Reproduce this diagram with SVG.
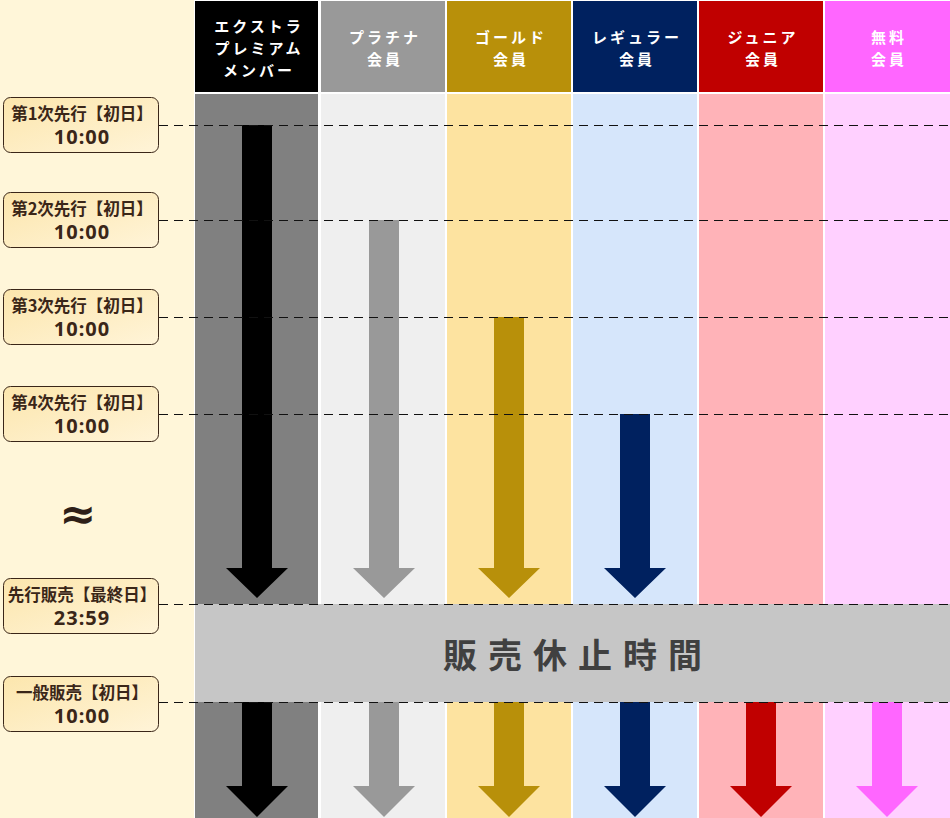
<svg xmlns="http://www.w3.org/2000/svg" width="950" height="818" viewBox="0 0 950 818">
<defs>
<linearGradient id="lg" x1="0" y1="0" x2="1" y2="1">
<stop offset="0" stop-color="#fce6ad"/>
<stop offset="1" stop-color="#fff4d8"/>
</linearGradient>
<style>
.hd{font-family:"Noto Sans CJK JP","Noto Sans",sans-serif;font-weight:700;font-size:15px;fill:#fff;text-anchor:middle;letter-spacing:3px;dominant-baseline:central}
.lb{fill:url(#lg);stroke:#3a2618;stroke-width:1}
.lt{font-family:"Noto Sans CJK JP","Noto Sans",sans-serif;font-weight:700;fill:#3a2618;text-anchor:middle}
.l1{font-size:16.5px}
.l2{font-family:"Noto Sans","Noto Sans CJK JP",sans-serif;font-size:20px;letter-spacing:1px}
.dash{stroke:#111;stroke-width:1;stroke-dasharray:9 6;fill:none}
</style>
</defs>
<rect x="0" y="0" width="950" height="818" fill="#fff6d9"/>
<rect x="194" y="0" width="756" height="818" fill="#ffffff"/>

<g id="col-extra">
<rect x="195" y="1" width="123" height="91" fill="#000000"/>
<rect x="195" y="94" width="123" height="724" fill="#808080"/>
<text class="hd"><tspan x="259" y="24.5">エクストラ</tspan><tspan x="259" y="46.5">プレミアム</tspan><tspan x="259" y="68.5">メンバー</tspan></text>
</g>
<g id="col-platinum">
<rect x="321" y="1" width="124" height="91" fill="#999999"/>
<rect x="321" y="94" width="124" height="724" fill="#efefef"/>
<text class="hd"><tspan x="385" y="36">プラチナ</tspan><tspan x="385" y="58">会員</tspan></text>
</g>
<g id="col-gold">
<rect x="447" y="1" width="124" height="91" fill="#b8900a"/>
<rect x="447" y="94" width="124" height="724" fill="#fde3a0"/>
<text class="hd"><tspan x="511" y="36">ゴールド</tspan><tspan x="511" y="58">会員</tspan></text>
</g>
<g id="col-regular">
<rect x="573" y="1" width="124" height="91" fill="#00215f"/>
<rect x="573" y="94" width="124" height="724" fill="#d6e6fb"/>
<text class="hd"><tspan x="637" y="36">レギュラー</tspan><tspan x="637" y="58">会員</tspan></text>
</g>
<g id="col-junior">
<rect x="699" y="1" width="124" height="91" fill="#c00000"/>
<rect x="699" y="94" width="124" height="724" fill="#ffb3b8"/>
<text class="hd"><tspan x="763" y="36">ジュニア</tspan><tspan x="763" y="58">会員</tspan></text>
</g>
<g id="col-free">
<rect x="825" y="1" width="125" height="91" fill="#ff66ff"/>
<rect x="825" y="94" width="125" height="724" fill="#ffd0ff"/>
<text class="hd"><tspan x="889" y="36">無料</tspan><tspan x="889" y="58">会員</tspan></text>
</g>

<g id="pause-band">
<rect x="195" y="604" width="755" height="98" fill="#c6c6c6"/>
<text x="578" y="653" font-family="'Noto Sans CJK JP','Noto Sans',sans-serif" font-weight="700" font-size="34" fill="#404040" text-anchor="middle" letter-spacing="11" dominant-baseline="central">販売休止時間</text>
</g>

<g id="arrows">
<polygon points="242,125 272,125 272,568 288,568 257,598 226,568 242,568" fill="#000000"/>
<polygon points="369,220 399,220 399,568 415,568 384,598 353,568 369,568" fill="#999999"/>
<polygon points="494,317 524,317 524,568 540,568 509,598 478,568 494,568" fill="#b8900a"/>
<polygon points="620,414 650,414 650,568 666,568 635,598 604,568 620,568" fill="#00215f"/>
<polygon points="242,702 272,702 272,786 288,786 257,817 226,786 242,786" fill="#000000"/>
<polygon points="369,702 399,702 399,786 415,786 384,817 353,786 369,786" fill="#999999"/>
<polygon points="494,702 524,702 524,786 540,786 509,817 478,786 494,786" fill="#b8900a"/>
<polygon points="620,702 650,702 650,786 666,786 635,817 604,786 620,786" fill="#00215f"/>
<polygon points="746,702 776,702 776,786 792,786 761,817 730,786 746,786" fill="#c00000"/>
<polygon points="872,702 902,702 902,786 918,786 887,817 856,786 872,786" fill="#ff66ff"/>
</g>

<g id="connectors">
<line class="dash" x1="159" y1="125.5" x2="950" y2="125.5"/>
<line class="dash" x1="159" y1="220.5" x2="950" y2="220.5"/>
<line class="dash" x1="159" y1="317.5" x2="950" y2="317.5"/>
<line class="dash" x1="159" y1="414.5" x2="950" y2="414.5"/>
<line class="dash" x1="159" y1="604.5" x2="950" y2="604.5"/>
<line class="dash" x1="159" y1="702.5" x2="950" y2="702.5"/>
</g>

<g id="label-1">
<rect class="lb" x="3.5" y="97.5" width="155" height="55" rx="7"/>
<text class="lt"><tspan class="l1" x="82" y="119.5">第1次先行【初日】</tspan><tspan class="l2" x="82" y="143.5">10:00</tspan></text>
</g>
<g id="label-2">
<rect class="lb" x="3.5" y="192.5" width="155" height="55" rx="7"/>
<text class="lt"><tspan class="l1" x="82" y="215">第2次先行【初日】</tspan><tspan class="l2" x="82" y="239">10:00</tspan></text>
</g>
<g id="label-3">
<rect class="lb" x="3.5" y="289.5" width="155" height="55" rx="7"/>
<text class="lt"><tspan class="l1" x="82" y="312">第3次先行【初日】</tspan><tspan class="l2" x="82" y="336">10:00</tspan></text>
</g>
<g id="label-4">
<rect class="lb" x="3.5" y="386.5" width="155" height="55" rx="7"/>
<text class="lt"><tspan class="l1" x="82" y="409">第4次先行【初日】</tspan><tspan class="l2" x="82" y="433">10:00</tspan></text>
</g>
<g id="approx">
<text x="78" y="529" font-family="'DejaVu Sans',sans-serif" font-weight="700" font-size="44" fill="#2e1f18" text-anchor="middle">≈</text>
</g>
<g id="label-5">
<rect class="lb" x="3.5" y="578.5" width="155" height="55" rx="7"/>
<text class="lt"><tspan class="l1" x="82" y="601">先行販売【最終日】</tspan><tspan class="l2" x="82" y="625">23:59</tspan></text>
</g>
<g id="label-6">
<rect class="lb" x="3.5" y="676.5" width="155" height="55" rx="7"/>
<text class="lt"><tspan class="l1" x="82" y="699">一般販売【初日】</tspan><tspan class="l2" x="82" y="723">10:00</tspan></text>
</g>
</svg>
